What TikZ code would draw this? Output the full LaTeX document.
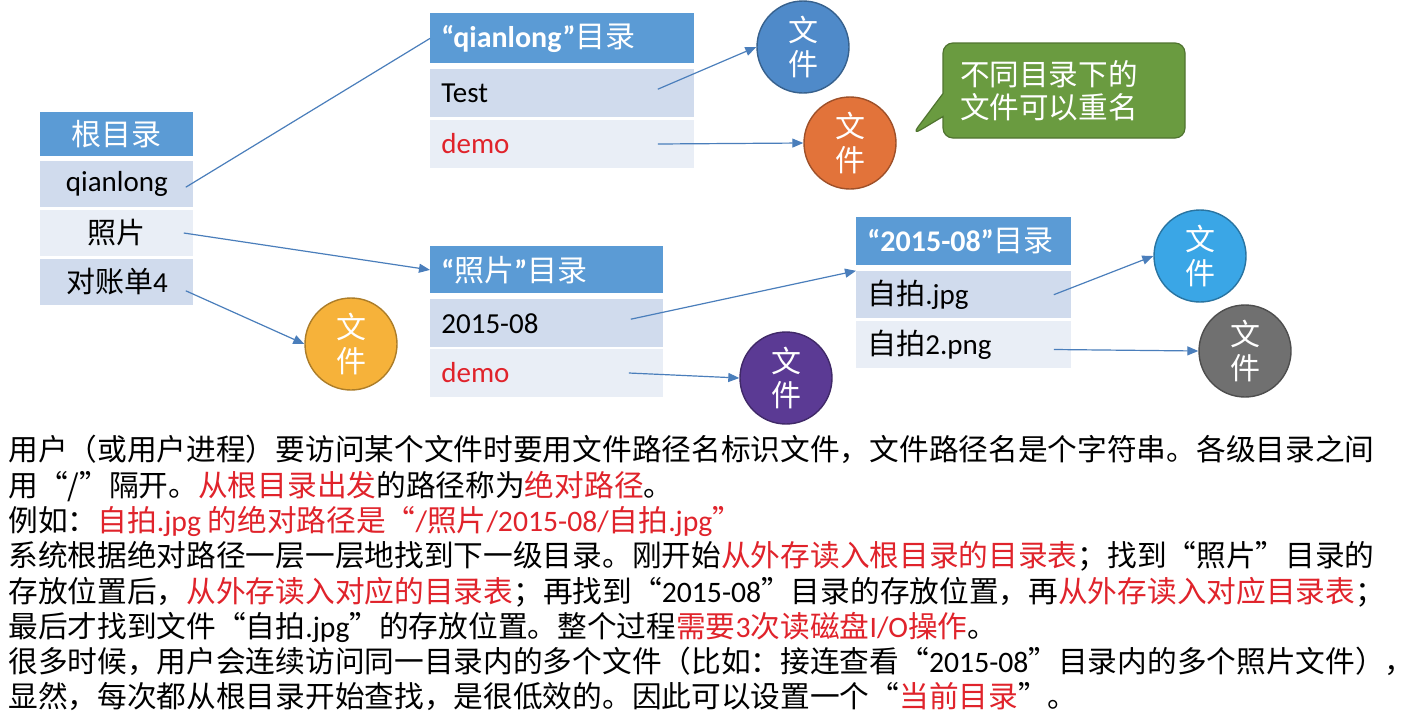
\documentclass[tikz,border=0pt]{standalone}
\usepackage{fontspec}
\usepackage{xcolor}
\usetikzlibrary{positioning,arrows.meta,shapes.callouts}
\setmainfont{Carlito}
\newfontfamily\cjk{Noto Sans CJK SC}
\newcommand\zh[1]{{\cjk #1}}
\newcommand\latn[1]{{\rmfamily #1}}
\newcommand\emr[1]{\textcolor{redtxt}{#1}}

\definecolor{hdrblue}{HTML}{5B9BD5}
\definecolor{rowdark}{HTML}{D0DBED}
\definecolor{rowlight}{HTML}{E9EEF6}
\definecolor{arrowblue}{HTML}{4A7EBB}
\definecolor{redtxt}{HTML}{E0232B}
\definecolor{callgreen}{HTML}{6A9B40}
\definecolor{fileA}{HTML}{4F8AC9}
\definecolor{fileB}{HTML}{E2733A}
\definecolor{fileC}{HTML}{F6B23A}
\definecolor{fileD}{HTML}{5B3A94}
\definecolor{fileE}{HTML}{3AA6E6}
\definecolor{fileF}{HTML}{707070}

\begin{document}
\begin{tikzpicture}[x=0.5pt, y=-0.5pt,
  every node/.style={font=\fontsize{14.5}{17}\selectfont},
  hdr/.style={fill=hdrblue, text=white, inner xsep=5.5pt, inner ysep=0pt,
              font=\fontsize{15}{18}\selectfont},
  rowA/.style={fill=rowdark, inner xsep=5.5pt, inner ysep=0pt, minimum height=23.5pt},
  rowB/.style={fill=rowlight, inner xsep=5.5pt, inner ysep=0pt, minimum height=23.5pt},
  filenode/.style={circle, draw=#1!70!black, fill=#1, line width=0.7pt,
              minimum size=46pt, inner sep=0pt, text=white, align=center,
              font=\cjk\fontsize{15}{17}\selectfont},
  conn/.style={-{Triangle[length=5.5pt,width=4.5pt]}, draw=arrowblue, line width=0.6pt},
  para/.style={anchor=base west, inner sep=0pt, font=\cjk\fontsize{14.85}{18}\selectfont}]

  \fill[white] (0,0) rectangle (1413,723);
  \useasboundingbox (0,0) rectangle (1413,723);

  % root directory
  \node[hdr, minimum width=76.5pt, minimum height=22pt, anchor=north west] (rhdr) at (40,112) {\zh{根目录}};
  \node[rowA, minimum width=76.5pt, minimum height=23pt, below=2pt of rhdr] (rq) {qianlong};
  \node[rowB, minimum width=76.5pt, minimum height=23pt, below=1pt of rq]   (rz) {\zh{照片}};
  \node[rowA, minimum width=76.5pt, minimum height=23pt, below=1pt of rz]   (rd) {\zh{对账单}4};

  % "qianlong" directory
  \node[hdr, text width=121pt, align=left, minimum height=25pt, anchor=north west] (qhdr) at (430,13)
    {{\bfseries “qianlong”}\zh{目录}};
  \node[rowA, text width=121pt, align=left, minimum height=24pt, below=2.5pt of qhdr] (qt) {Test};
  \node[rowB, text width=121pt, align=left, minimum height=24pt, below=1pt of qt]     (qd) {\emr{demo}};

  % "photo" directory
  \node[hdr, text width=105.5pt, align=left, minimum height=23.5pt, anchor=north west] (zhdr) at (430,246)
    {{\bfseries “}\zh{照片}{\bfseries ”}\zh{目录}};
  \node[rowA, text width=105.5pt, align=left, minimum height=24pt, below=2.5pt of zhdr] (z1) {2015-08};
  \node[rowB, text width=105.5pt, align=left, minimum height=24pt, below=0.5pt of z1]   (zd) {\emr{demo}};

  % "2015-08" directory
  \node[hdr, text width=96.5pt, align=left, minimum height=24pt, anchor=north west] (dhdr) at (856,217)
    {{\bfseries “2015-08”}\zh{目录}};
  \node[rowA, text width=96.5pt, align=left, below=2.5pt of dhdr] (dj) {\zh{自拍}.jpg};
  \node[rowB, text width=96.5pt, align=left, below=1pt of dj]     (dp) {\zh{自拍}2.png};

  % files
  \node[filenode=fileA] (fA) at (803,47)   {文\\件};
  \node[filenode=fileB] (fB) at (850,143)  {文\\件};
  \node[filenode=fileC] (fC) at (351,344)  {文\\件};
  \node[filenode=fileD] (fD) at (786,378)  {文\\件};
  \node[filenode=fileE] (fE) at (1200,256) {文\\件};
  \node[filenode=fileF] (fF) at (1245,351) {文\\件};

  \node[rectangle callout, rounded corners=5pt, fill=callgreen, draw=callgreen!75!black,
        line width=0.6pt, minimum width=121pt, minimum height=47.5pt, inner xsep=8.5pt,
        text width=104pt, align=left, text=white, callout pointer width=11.5pt,
        callout absolute pointer={(912,135)}, font=\cjk\fontsize{14.8}{16.5}\selectfont]
    (note) at (1064,90.5) {不同目录下的\\文件可以重名};

  \draw[draw=arrowblue, line width=0.6pt] ([xshift=-4pt,yshift=-1.5pt]rq.east) -- (qhdr.west);
  \draw[conn] ([xshift=-5pt]rz.east) -- (zhdr.west);
  \draw[conn] ([xshift=-4pt,yshift=-4.5pt]rd.east) -- (fC.west);
  \draw[conn] ([xshift=-18.5pt,yshift=2pt]qt.east) -- (fA.west);
  \draw[conn] ([xshift=-18.5pt]qd.east) -- (fB.west);
  \draw[conn] ([xshift=-16.5pt,yshift=2pt]z1.east) -- (dj.north west);
  \draw[conn] ([xshift=-17.5pt]zd.east) -- (fD.west);
  \draw[conn] ([xshift=-9pt]dj.east) -- (fE.west);
  \draw[conn] ([xshift=-9pt,yshift=-2.5pt]dp.east) -- (fF.west);

  % explanation text
  \node[para] (l1) at (8,460.5) {用户（或用户进程）要访问某个文件时要用文件路径名标识文件，文件路径名是个字符串。各级目录之间};
  \node[para] (l2) at (8,496)   {用“/”隔开。\emr{从根目录出发}的路径称为\emr{绝对路径}。};
  \node[para] (l3) at (8,531)   {例如：\emr{自拍\latn{.jpg} 的绝对路径是“\latn{/}照片\latn{/2015-08/}自拍\latn{.jpg}”}};
  \node[para] (l4) at (8,566.5) {系统根据绝对路径一层一层地找到下一级目录。刚开始\emr{从外存读入根目录的目录表}；找到“照片”目录的};
  \node[para] (l5) at (8,602)   {存放位置后，\emr{从外存读入对应的目录表}；再找到“\latn{2015-08}”目录的存放位置，再\emr{从外存读入对应目录表}；};
  \node[para] (l6) at (8,637)   {最后才找到文件“自拍\latn{.jpg}”的存放位置。整个过程\emr{需要\latn{3}次读磁盘\latn{I/O}操作}。};
  \node[para] (l7) at (8,672.5) {很多时候，用户会连续访问同一目录内的多个文件（比如：接连查看“\latn{2015-08}”目录内的多个照片文件），};
  \node[para] (l8) at (8,707.5) {显然，每次都从根目录开始查找，是很低效的。因此可以设置一个“\emr{当前目录}”。};
\end{tikzpicture}
\end{document}
